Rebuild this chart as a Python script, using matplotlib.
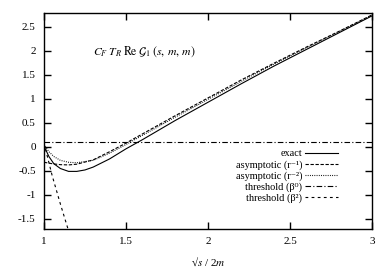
# C_F T_R Re G_1(s,m,m): exact vs asymptotic and threshold expansions

import numpy as np
import matplotlib
matplotlib.use('Agg')
import matplotlib.pyplot as plt

plt.rcParams['font.family'] = ['Liberation Serif', 'DejaVu Serif']
plt.rcParams['mathtext.fontset'] = 'stix'
plt.rcParams['axes.unicode_minus'] = False

# values
exact_x = [1.0, 1.03, 1.06, 1.1, 1.15, 1.2, 1.25, 1.3, 1.4, 1.5, 1.6, 1.7,
           1.8, 2.0, 2.2, 2.4, 2.6, 2.8, 3.0]
exact_y = [0.02, -0.2, -0.35, -0.45, -0.51, -0.51, -0.48, -0.42, -0.25,
           -0.04, 0.15, 0.35, 0.55, 0.93, 1.31, 1.68, 2.03, 2.38, 2.73]

asym1_x = [1.0, 1.05, 1.1, 1.15, 1.2, 1.3, 1.4, 1.5, 1.6, 1.8, 2.0, 2.2,
           2.4, 2.6, 2.8, 3.0]
asym1_y = [-0.32, -0.35, -0.37, -0.375, -0.36, -0.27, -0.1, 0.08, 0.27,
           0.65, 1.02, 1.39, 1.74, 2.08, 2.41, 2.75]

asym2_x = [1.0, 1.03, 1.06, 1.1, 1.15, 1.2, 1.3, 1.4, 1.5, 1.6, 1.8, 2.0,
           2.2, 2.4, 2.6, 2.8, 3.0]
asym2_y = [0.05, -0.1, -0.2, -0.28, -0.32, -0.33, -0.28, -0.13, 0.05,
           0.24, 0.62, 0.99, 1.36, 1.72, 2.06, 2.4, 2.74]

thr0_x = [1.0, 3.0]
thr0_y = [0.1, 0.1]

thr2_x = [1.0, 1.05, 1.1, 1.15]
thr2_y = [0.08, -0.6, -1.19, -1.75]

labels = ['exact', 'asymptotic (r⁻¹)', 'asymptotic (r⁻²)',
          'threshold (β⁰)', 'threshold (β²)']

fig = plt.figure(figsize=(3.9, 2.73), dpi=100)
ax = fig.add_axes([0.1128, 0.1612, 0.841, 0.7912])

lw = 0.8
styles = [dict(linestyle='-'),
          dict(dashes=(3, 1.5)),
          dict(dashes=(0.8, 1.2)),
          dict(dashes=(5, 2, 1, 2)),
          dict(dashes=(2.5, 3))]
series = [(exact_x, exact_y), (asym1_x, asym1_y), (asym2_x, asym2_y),
          (thr0_x, thr0_y), (thr2_x, thr2_y)]
for (xs, ys), st in zip(series, styles):
    ax.plot(xs, ys, color='black', lw=lw, **st)

ax.set_xlim(1, 3)
ax.set_ylim(-1.71, 2.79)
ax.set_xticks([1, 1.5, 2, 2.5, 3])
ax.set_xticklabels(['1', '1.5', '2', '2.5', '3'])
ax.set_yticks([-1.5, -1, -0.5, 0, 0.5, 1, 1.5, 2, 2.5])
ax.set_yticklabels(['-1.5', '-1', '-0.5', '0', '0.5', '1', '1.5', '2', '2.5'])
ax.tick_params(direction='in', length=5, width=1, top=True, right=True,
               labelsize=8, pad=6, colors='black')
for sp in ax.spines.values():
    sp.set_linewidth(1)

ax.text(0.15, 0.82, r'$C_F\;T_R\;\mathrm{Re}\;\mathcal{G}_1\;(s,\,m,\,m)$',
        transform=ax.transAxes, fontsize=8.5, va='center')
ax.set_xlabel('√$s$ / 2$m$', fontsize=8, labelpad=7)

# gnuplot-style key: right-aligned text with sample line to its right
row_top = 0.352
row_step = 0.051
for i, (lab, st) in enumerate(zip(labels, styles)):
    yk = row_top - i * row_step
    ax.text(0.787, yk, lab, transform=ax.transAxes, ha='right',
            va='center_baseline', fontsize=7.4)
    ax.plot([0.797, 0.896], [yk, yk], transform=ax.transAxes,
            color='black', lw=lw, **st)

fig.savefig('out.png', dpi=100)
